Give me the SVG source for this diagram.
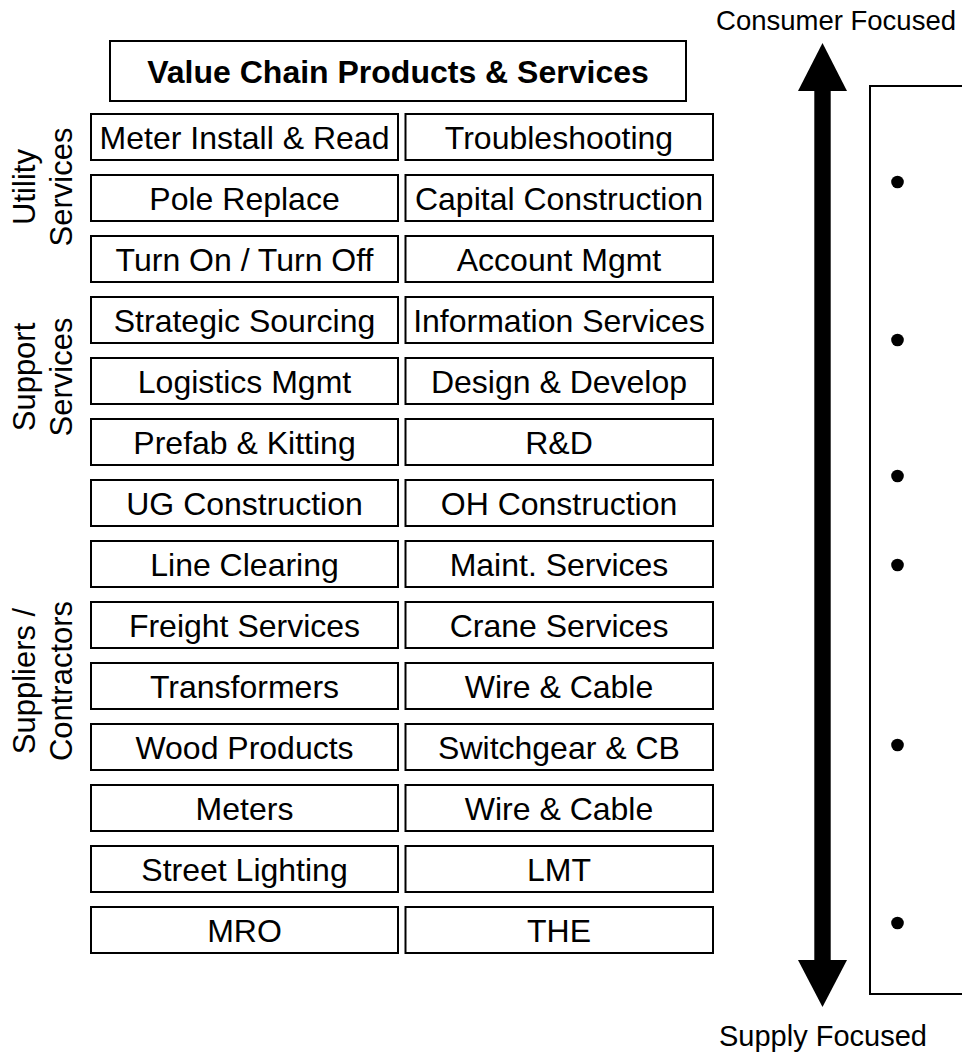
<svg xmlns="http://www.w3.org/2000/svg" width="962" height="1053" viewBox="0 0 962 1053">
  <style>
    .box { fill: #ffffff; stroke: #000000; stroke-width: 2; }
    .lbl { font-family: "Liberation Sans", Arial, sans-serif; font-size: 32px; fill: #000000; text-anchor: middle; }
    .title { font-weight: bold; }
    .side { font-family: "Liberation Sans", Arial, sans-serif; font-size: 31px; fill: #000000; text-anchor: middle; }
    .axis { font-family: "Liberation Sans", Arial, sans-serif; fill: #000000; }
    .bullet { fill: #000000; }
  </style>

  <rect x="0" y="0" width="962" height="1053" fill="#ffffff"/>

  <!-- header -->
  <g id="title">
    <rect class="box" x="110" y="41" width="576" height="60"/>
    <text class="lbl title" x="398" y="83">Value Chain Products &amp; Services</text>
  </g>

  <!-- group labels on the left -->
  <g id="label-utility">
    <text class="side" transform="translate(35,187) rotate(-90)">Utility</text>
    <text class="side" transform="translate(72,187) rotate(-90)">Services</text>
  </g>
  <g id="label-support">
    <text class="side" transform="translate(35,377) rotate(-90)">Support</text>
    <text class="side" transform="translate(72,377) rotate(-90)">Services</text>
  </g>
  <g id="label-suppliers">
    <text class="side" transform="translate(35,681) rotate(-90)">Suppliers /</text>
    <text class="side" transform="translate(72,681) rotate(-90)">Contractors</text>
  </g>

  <!-- service grid: left column x=91, right column x=405.5, rows every 61px -->
  <g id="row1">
    <rect class="box" x="91" y="114" width="307" height="46"/>
    <text class="lbl" x="244.5" y="149">Meter Install &amp; Read</text>
    <rect class="box" x="405.5" y="114" width="307.5" height="46"/>
    <text class="lbl" x="559" y="149">Troubleshooting</text>
  </g>
  <g id="row2">
    <rect class="box" x="91" y="175" width="307" height="46"/>
    <text class="lbl" x="244.5" y="210">Pole Replace</text>
    <rect class="box" x="405.5" y="175" width="307.5" height="46"/>
    <text class="lbl" x="559" y="210">Capital Construction</text>
  </g>
  <g id="row3">
    <rect class="box" x="91" y="236" width="307" height="46"/>
    <text class="lbl" x="244.5" y="271">Turn On / Turn Off</text>
    <rect class="box" x="405.5" y="236" width="307.5" height="46"/>
    <text class="lbl" x="559" y="271">Account Mgmt</text>
  </g>
  <g id="row4">
    <rect class="box" x="91" y="297" width="307" height="46"/>
    <text class="lbl" x="244.5" y="332">Strategic Sourcing</text>
    <rect class="box" x="405.5" y="297" width="307.5" height="46"/>
    <text class="lbl" x="559" y="332">Information Services</text>
  </g>
  <g id="row5">
    <rect class="box" x="91" y="358" width="307" height="46"/>
    <text class="lbl" x="244.5" y="393">Logistics Mgmt</text>
    <rect class="box" x="405.5" y="358" width="307.5" height="46"/>
    <text class="lbl" x="559" y="393">Design &amp; Develop</text>
  </g>
  <g id="row6">
    <rect class="box" x="91" y="419" width="307" height="46"/>
    <text class="lbl" x="244.5" y="454">Prefab &amp; Kitting</text>
    <rect class="box" x="405.5" y="419" width="307.5" height="46"/>
    <text class="lbl" x="559" y="454">R&amp;D</text>
  </g>
  <g id="row7">
    <rect class="box" x="91" y="480" width="307" height="46"/>
    <text class="lbl" x="244.5" y="515">UG Construction</text>
    <rect class="box" x="405.5" y="480" width="307.5" height="46"/>
    <text class="lbl" x="559" y="515">OH Construction</text>
  </g>
  <g id="row8">
    <rect class="box" x="91" y="541" width="307" height="46"/>
    <text class="lbl" x="244.5" y="576">Line Clearing</text>
    <rect class="box" x="405.5" y="541" width="307.5" height="46"/>
    <text class="lbl" x="559" y="576">Maint. Services</text>
  </g>
  <g id="row9">
    <rect class="box" x="91" y="602" width="307" height="46"/>
    <text class="lbl" x="244.5" y="637">Freight Services</text>
    <rect class="box" x="405.5" y="602" width="307.5" height="46"/>
    <text class="lbl" x="559" y="637">Crane Services</text>
  </g>
  <g id="row10">
    <rect class="box" x="91" y="663" width="307" height="46"/>
    <text class="lbl" x="244.5" y="698">Transformers</text>
    <rect class="box" x="405.5" y="663" width="307.5" height="46"/>
    <text class="lbl" x="559" y="698">Wire &amp; Cable</text>
  </g>
  <g id="row11">
    <rect class="box" x="91" y="724" width="307" height="46"/>
    <text class="lbl" x="244.5" y="759">Wood Products</text>
    <rect class="box" x="405.5" y="724" width="307.5" height="46"/>
    <text class="lbl" x="559" y="759">Switchgear &amp; CB</text>
  </g>
  <g id="row12">
    <rect class="box" x="91" y="785" width="307" height="46"/>
    <text class="lbl" x="244.5" y="820">Meters</text>
    <rect class="box" x="405.5" y="785" width="307.5" height="46"/>
    <text class="lbl" x="559" y="820">Wire &amp; Cable</text>
  </g>
  <g id="row13">
    <rect class="box" x="91" y="846" width="307" height="46"/>
    <text class="lbl" x="244.5" y="881">Street Lighting</text>
    <rect class="box" x="405.5" y="846" width="307.5" height="46"/>
    <text class="lbl" x="559" y="881">LMT</text>
  </g>
  <g id="row14">
    <rect class="box" x="91" y="907" width="307" height="46"/>
    <text class="lbl" x="244.5" y="942">MRO</text>
    <rect class="box" x="405.5" y="907" width="307.5" height="46"/>
    <text class="lbl" x="559" y="942">THE</text>
  </g>

  <!-- focus axis: double-headed arrow -->
  <g id="connectors">
    <rect x="814.3" y="90" width="16.4" height="871" fill="#000000"/>
    <polygon points="822.5,43 798,91 847,91" fill="#000000"/>
    <polygon points="798,960 847,960 822.5,1007" fill="#000000"/>
  </g>
  <g id="axis-labels">
    <text class="axis" x="956" y="30" font-size="27.5" text-anchor="end">Consumer Focused</text>
    <text class="axis" x="823" y="1046" font-size="29" text-anchor="middle">Supply Focused</text>
  </g>

  <!-- notes panel with bullet points -->
  <g id="notes">
    <rect class="box" x="870" y="86" width="120" height="908"/>
    <circle class="bullet" cx="897.5" cy="182" r="6.3"/>
    <circle class="bullet" cx="897.5" cy="340" r="6.3"/>
    <circle class="bullet" cx="897.5" cy="476" r="6.3"/>
    <circle class="bullet" cx="897.5" cy="565" r="6.3"/>
    <circle class="bullet" cx="897.5" cy="745" r="6.3"/>
    <circle class="bullet" cx="897.5" cy="923" r="6.3"/>
  </g>
</svg>
